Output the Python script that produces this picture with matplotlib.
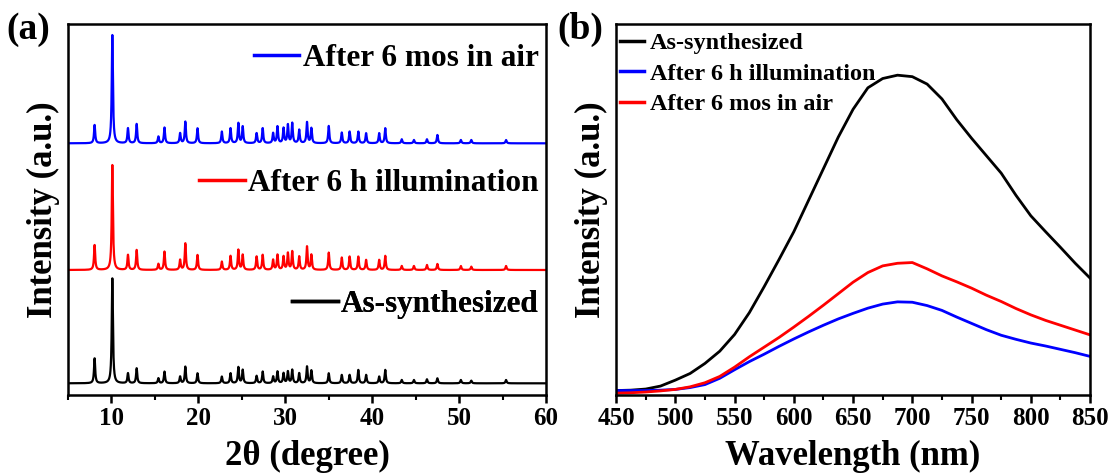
import matplotlib
matplotlib.use('Agg')
import matplotlib.pyplot as plt
import numpy as np

plt.rcParams['font.family'] = ['Liberation Serif', 'DejaVu Serif']
plt.rcParams['font.weight'] = 'bold'
plt.rcParams['axes.labelweight'] = 'bold'

# (a) XRD peaks: position (deg) and peak heights per sample
peak_pos = [8.06, 10.1, 11.9, 12.9, 15.4, 16.1, 17.9, 18.5, 19.9, 22.7, 23.7, 24.6,
            25.1, 26.7, 27.4, 28.6, 29.1, 29.8, 30.3, 30.8, 31.6, 32.5, 33.0, 35.0,
            36.5, 37.4, 38.4, 39.3, 40.8, 41.5, 43.4, 44.8, 46.3, 47.5, 50.2, 51.4, 55.4]
h_asyn = [7.5, 31.5, 3.0, 4.5, 1.5, 3.5, 2.0, 5.0, 3.0, 2.0, 3.0, 4.8,
          4.0, 2.2, 3.5, 2.0, 3.5, 3.0, 3.5, 4.0, 3.0, 5.0, 3.8, 3.0,
          2.5, 2.5, 4.0, 2.5, 2.0, 4.0, 1.0, 1.0, 1.2, 1.5, 1.0, 0.8, 1.0]
h_illum = [7.5, 31.5, 4.5, 6.0, 1.8, 5.5, 3.0, 8.0, 4.5, 2.5, 4.2, 6.0,
           4.5, 4.0, 4.5, 3.0, 4.5, 4.0, 5.0, 5.5, 4.0, 7.0, 4.5, 5.2,
           3.7, 4.0, 4.0, 3.0, 3.0, 4.2, 1.2, 1.2, 1.5, 1.8, 1.2, 1.0, 1.2]
h_air = [5.5, 32.5, 4.5, 5.8, 2.0, 4.7, 3.0, 6.5, 4.5, 3.5, 4.5, 6.0,
         5.0, 3.0, 4.5, 3.0, 5.0, 4.5, 5.5, 6.0, 4.0, 6.3, 4.5, 5.2,
         3.2, 3.5, 3.5, 3.0, 3.0, 4.5, 1.2, 1.0, 1.2, 2.5, 1.0, 1.0, 1.0]
xrd_offsets = {'As-synthesized': 3.5, 'After 6 h illumination': 37.5, 'After 6 mos in air': 75.5}

# (b) PL spectra
wl = [450, 462.5, 475, 487.5, 500, 512.5, 525, 537.5, 550, 562.5, 575, 587.5, 600,
      612.5, 625, 637.5, 650, 662.5, 675, 687.5, 700, 712.5, 725, 737.5, 750,
      762.5, 775, 787.5, 800, 812.5, 825, 837.5, 850]
pl_asyn = [0.012, 0.013, 0.016, 0.024, 0.040, 0.058, 0.085, 0.118, 0.163, 0.222, 0.292, 0.365, 0.440,
           0.525, 0.610, 0.695, 0.770, 0.828, 0.853, 0.862, 0.858, 0.838, 0.798, 0.742, 0.692,
           0.645, 0.598, 0.538, 0.483, 0.440, 0.398, 0.355, 0.315]
pl_illum = [0.012, 0.012, 0.012, 0.013, 0.015, 0.020, 0.028, 0.045, 0.068, 0.090, 0.110, 0.131, 0.151,
            0.170, 0.188, 0.205, 0.220, 0.234, 0.245, 0.251, 0.250, 0.241, 0.228, 0.210, 0.193,
            0.176, 0.161, 0.150, 0.140, 0.132, 0.123, 0.114, 0.104]
pl_air = [0.005, 0.006, 0.008, 0.011, 0.015, 0.022, 0.033, 0.050, 0.075, 0.103, 0.129, 0.155, 0.183,
          0.212, 0.242, 0.273, 0.304, 0.330, 0.348, 0.355, 0.357, 0.340, 0.321, 0.305, 0.288,
          0.269, 0.252, 0.233, 0.216, 0.201, 0.188, 0.175, 0.162]

fig = plt.figure(figsize=(11.13, 4.74), dpi=100)
ax1 = fig.add_axes([0.0611, 0.1667, 0.4295, 0.7827])
ax2 = fig.add_axes([0.5535, 0.1667, 0.4259, 0.7827])

# XRD profiles built from the peak list
tt = np.linspace(5, 60, 4000)
def profile(heights, base):
    y = np.full_like(tt, base)
    for p, h in zip(peak_pos, heights):
        y += h / (1 + ((tt - p) / 0.08) ** 2)
    return y

lines_a = {}
lines_a['As-synthesized'] = ax1.plot(tt, profile(h_asyn, xrd_offsets['As-synthesized']), color='black', lw=1.6)[0]
lines_a['After 6 h illumination'] = ax1.plot(tt, profile(h_illum, xrd_offsets['After 6 h illumination']), color='#ff0000', lw=1.6)[0]
lines_a['After 6 mos in air'] = ax1.plot(tt, profile(h_air, xrd_offsets['After 6 mos in air']), color='#0000ff', lw=1.6)[0]

ax1.set_xlim(5, 60)
ax1.set_ylim(0, 111.3)
ax1.set_xticks([10, 20, 30, 40, 50, 60])
ax1.set_xticks([5, 15, 25, 35, 45, 55], minor=True)
ax1.set_yticks([])
ax1.set_xlabel('2θ (degree)', fontsize=25, labelpad=7)
ax1.set_ylabel('Intensity (a.u.)', fontsize=25, labelpad=6)

for name, ypos in [('After 6 mos in air', 0.908), ('After 6 h illumination', 0.571), ('As-synthesized', 0.243)]:
    leg = ax1.legend([lines_a[name]], [name], loc='center right', bbox_to_anchor=(0.984, ypos),
                     frameon=False, fontsize=22.5, handlelength=1.45, handletextpad=0.1,
                     borderaxespad=0.0, borderpad=0.0)
    leg.get_lines()[0].set_linewidth(2.5)
    ax1.add_artist(leg)

ax2.plot(wl, pl_asyn, color='black', lw=2.0, label='As-synthesized')
ax2.plot(wl, pl_illum, color='#0000ff', lw=2.0, label='After 6 h illumination')
ax2.plot(wl, pl_air, color='#ff0000', lw=2.0, label='After 6 mos in air')
ax2.set_xlim(450, 850)
ax2.set_ylim(0, 1.0)
ax2.set_xticks(np.arange(450, 851, 50))
ax2.set_xticks(np.arange(475, 850, 50), minor=True)
ax2.set_yticks([])
ax2.set_xlabel('Wavelength (nm)', fontsize=25, labelpad=7)
ax2.set_ylabel('Intensity (a.u.)', fontsize=25, labelpad=6)
leg2 = ax2.legend(loc='upper left', bbox_to_anchor=(0.008, 0.978), frameon=False, fontsize=17.5,
                  handlelength=1.0, handletextpad=0.25, labelspacing=0.35,
                  borderaxespad=0.0, borderpad=0.0)
for l in leg2.get_lines():
    l.set_linewidth(2.5)

for ax in (ax1, ax2):
    for s in ax.spines.values():
        s.set_linewidth(1.8)
    ax.tick_params(axis='x', which='major', direction='out', length=6, width=1.8, labelsize=18, pad=3)
    ax.tick_params(axis='x', which='minor', direction='out', length=3.5, width=1.5)
    for lab in ax.get_xticklabels():
        lab.set_fontweight('bold')

fig.text(0.006, 0.937, '(a)', fontsize=27, fontweight='bold', va='center', ha='left')
fig.text(0.501, 0.937, '(b)', fontsize=27, fontweight='bold', va='center', ha='left')

fig.savefig('out.png', dpi=100)
